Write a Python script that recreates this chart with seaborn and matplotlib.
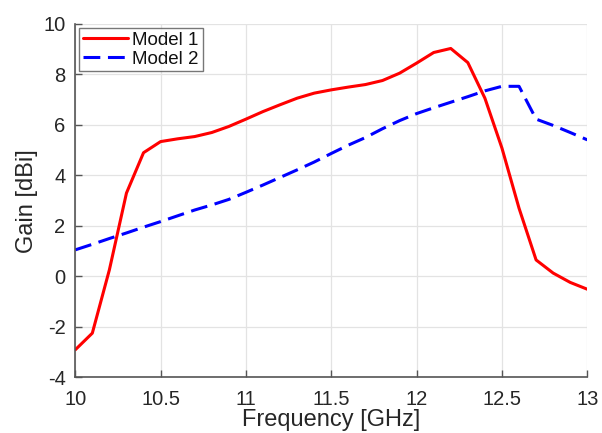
import numpy as np
import pandas as pd
import matplotlib
matplotlib.use("Agg")
import matplotlib.pyplot as plt
import seaborn as sns

freq = [10.0, 10.1, 10.2, 10.3, 10.4, 10.5, 10.6, 10.7, 10.8, 10.9, 11.0,
        11.1, 11.2, 11.3, 11.4, 11.5, 11.6, 11.7, 11.8, 11.9, 12.0,
        12.1, 12.2, 12.3, 12.4, 12.5, 12.6, 12.7, 12.8, 12.9, 13.0]
model1 = [-2.91, -2.25, 0.26, 3.3, 4.9, 5.34, 5.45, 5.54, 5.7, 5.94, 6.23,
          6.53, 6.8, 7.06, 7.26, 7.39, 7.5, 7.6, 7.76, 8.05, 8.45,
          8.87, 9.03, 8.47, 7.06, 5.08, 2.7, 0.65, 0.13, -0.24, -0.51]
model2 = [1.05, 1.27, 1.5, 1.72, 1.95, 2.17, 2.4, 2.63, 2.83, 3.05, 3.33,
          3.62, 3.92, 4.22, 4.53, 4.87, 5.2, 5.5, 5.85, 6.17, 6.45,
          6.68, 6.9, 7.12, 7.35, 7.53, 7.53, 6.23, 5.98, 5.7, 5.41]
series_names = ["Model 1", "Model 2"]
xticks = [10, 10.5, 11, 11.5, 12, 12.5, 13]
yticks = [-4, -2, 0, 2, 4, 6, 8, 10]

df = pd.DataFrame({
    "Frequency": freq * 2,
    "Gain": model1 + model2,
    "Model": [series_names[0]] * len(freq) + [series_names[1]] * len(freq),
})

sns.set_style("white")
plt.rcParams["font.family"] = ["Liberation Sans", "DejaVu Sans"]
plt.rcParams["axes.unicode_minus"] = False

fig = plt.figure(figsize=(6.02, 4.33), dpi=100)
ax = fig.add_axes([0.125, 0.1286, 0.8506, 0.816])

sns.lineplot(data=df, x="Frequency", y="Gain", hue="Model", style="Model",
             palette={"Model 1": "#ff0000", "Model 2": "#0000ff"},
             dashes={"Model 1": "", "Model 2": (5.5, 2.5)},
             linewidth=2.2, ax=ax, legend=True)

ax.set_xlim(10, 13)
ax.set_ylim(-4, 10)
ax.set_xticks(xticks)
ax.set_xticklabels([f"{t:g}" for t in xticks])
ax.set_yticks(yticks)
ax.set_yticklabels([f"{t:g}" for t in yticks])
ax.grid(True, color="#e3e3e3", linewidth=0.9)
ax.set_axisbelow(True)
for s in ["top", "right"]:
    ax.spines[s].set_visible(False)
for s in ["left", "bottom"]:
    ax.spines[s].set_color("#555555")
    ax.spines[s].set_linewidth(1.2)
ax.tick_params(direction="in", length=5, width=1, color="#555555",
               labelsize=14.5, labelcolor="#262626", bottom=True, left=True)
ax.tick_params(axis="x", pad=9)
ax.tick_params(axis="y", pad=7)
ax.set_xlabel("Frequency [GHz]", fontsize=17, color="#262626", labelpad=0)
ax.set_ylabel("Gain [dBi]", fontsize=17, color="#262626", labelpad=4)

leg = ax.legend(loc="upper left", fontsize=13.5, frameon=True, fancybox=False,
                edgecolor="#555555", handlelength=2.4, borderaxespad=0.2,
                borderpad=0.2, labelspacing=0.1, handletextpad=0.25)
leg.get_frame().set_linewidth(1.0)
for t in leg.get_texts():
    t.set_color("#111111")

fig.savefig("out.png", dpi=100)
